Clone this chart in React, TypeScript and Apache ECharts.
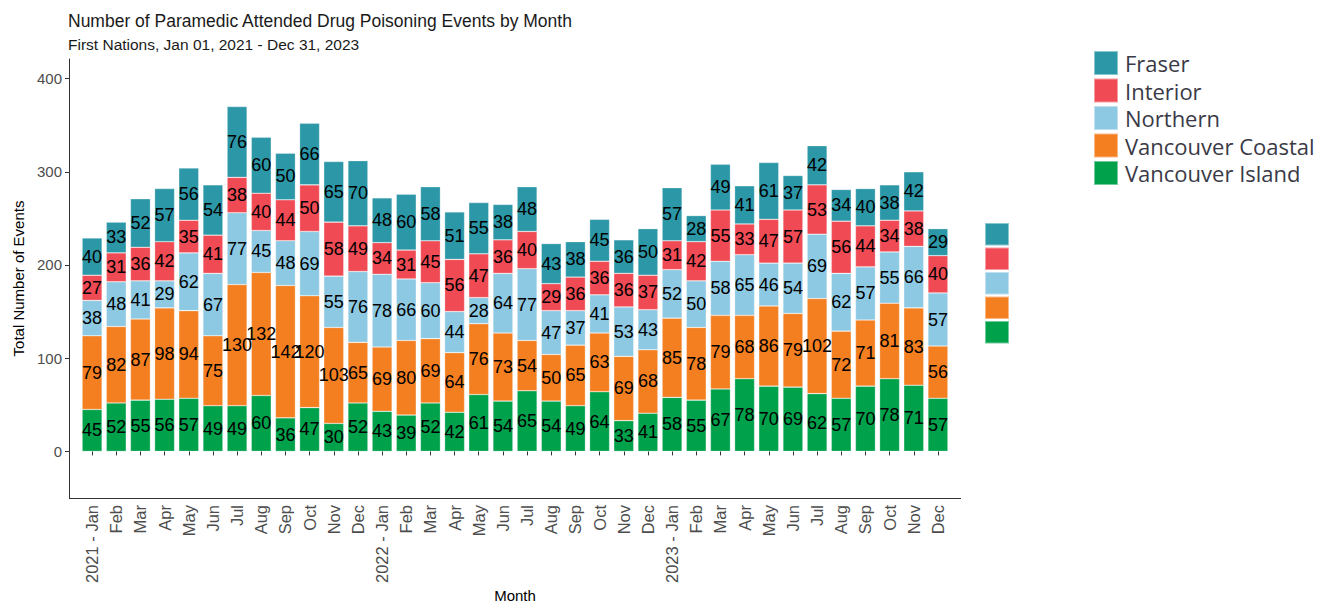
import React, { useEffect, useRef } from "react";
import * as echarts from "echarts";

const monthLabels = [
  "2021 - Jan", "Feb", "Mar", "Apr", "May", "Jun", "Jul", "Aug", "Sep", "Oct", "Nov", "Dec",
  "2022 - Jan", "Feb", "Mar", "Apr", "May", "Jun", "Jul", "Aug", "Sep", "Oct", "Nov", "Dec",
  "2023 - Jan", "Feb", "Mar", "Apr", "May", "Jun", "Jul", "Aug", "Sep", "Oct", "Nov", "Dec",
];

const vancouverIsland = [
  45, 52, 55, 56, 57, 49, 49, 60, 36, 47, 30, 52,
  43, 39, 52, 42, 61, 54, 65, 54, 49, 64, 33, 41,
  58, 55, 67, 78, 70, 69, 62, 57, 70, 78, 71, 57,
];
const vancouverCoastal = [
  79, 82, 87, 98, 94, 75, 130, 132, 142, 120, 103, 65,
  69, 80, 69, 64, 76, 73, 54, 50, 65, 63, 69, 68,
  85, 78, 79, 68, 86, 79, 102, 72, 71, 81, 83, 56,
];
const northern = [
  38, 48, 41, 29, 62, 67, 77, 45, 48, 69, 55, 76,
  78, 66, 60, 44, 28, 64, 77, 47, 37, 41, 53, 43,
  52, 50, 58, 65, 46, 54, 69, 62, 57, 55, 66, 57,
];
const interior = [
  27, 31, 36, 42, 35, 41, 38, 40, 44, 50, 58, 49,
  34, 31, 45, 56, 47, 36, 40, 29, 36, 36, 36, 37,
  31, 42, 55, 33, 47, 57, 53, 56, 44, 34, 38, 40,
];
const fraser = [
  40, 33, 52, 57, 56, 54, 76, 60, 50, 66, 65, 70,
  48, 60, 58, 51, 55, 38, 48, 43, 38, 45, 36, 50,
  57, 28, 49, 41, 61, 37, 42, 34, 40, 38, 42, 29,
];

const yTicks = [0, 100, 200, 300, 400];
const legendOrder = ["Fraser", "Interior", "Northern", "Vancouver Coastal", "Vancouver Island"];

const seriesDefs = [
  { name: "Vancouver Island", data: vancouverIsland, color: "#00A14B" },
  { name: "Vancouver Coastal", data: vancouverCoastal, color: "#F47F20" },
  { name: "Northern", data: northern, color: "#8DC9E2" },
  { name: "Interior", data: interior, color: "#F04B55" },
  { name: "Fraser", data: fraser, color: "#2C97A7" },
];

const FONT = "'Liberation Sans', Arial, sans-serif";

export default function App() {
  const ref = useRef<HTMLDivElement>(null);
  useEffect(() => {
    if (!ref.current) return;
    const chart = echarts.init(ref.current, null, { renderer: "svg" });
    chart.setOption({
      animation: false,
      backgroundColor: "#ffffff",
      textStyle: { fontFamily: FONT },
      title: [
        {
          text: "Number of Paramedic Attended Drug Poisoning Events by Month",
          left: 68,
          top: 12,
          padding: 0,
          textStyle: { fontSize: 17.5, fontWeight: "normal", color: "#1a1a1a", fontFamily: FONT },
        },
        {
          text: "First Nations, Jan 01, 2021 - Dec 31, 2023",
          left: 68,
          top: 36,
          padding: 0,
          textStyle: { fontSize: 15.5, fontWeight: "normal", color: "#1a1a1a", fontFamily: FONT },
        },
      ],
      legend: [
        {
          data: legendOrder,
          orient: "vertical",
          left: 1093,
          top: 50,
          padding: 0,
          itemWidth: 24,
          itemHeight: 24,
          itemGap: 1.5,
          icon: "rect",
          selectedMode: false,
          textStyle: {
            fontSize: 22,
            lineHeight: 22,
            color: "#3a3a46",
            fontFamily: "'Open Sans', sans-serif",
            padding: [0, 0, 0, 2],
          },
        },
        {
          data: legendOrder,
          orient: "vertical",
          left: 984,
          top: 222,
          padding: 0,
          itemWidth: 24,
          itemHeight: 22.5,
          itemGap: 0,
          icon: "rect",
          selectedMode: false,
          formatter: () => " ",
          textStyle: { fontSize: 6, lineHeight: 8, color: "#fff" },
        },
      ],
      grid: { left: 80, right: 372, top: 59, bottom: 105, containLabel: false, outerBoundsMode: "none" },
      xAxis: {
        type: "category",
        data: monthLabels,
        boundaryGap: true,
        name: "Month",
        nameLocation: "middle",
        nameGap: 90,
        nameMoveOverlap: false,
        nameTextStyle: { fontSize: 15, color: "#000", fontFamily: FONT },
        axisLine: { show: false },
        axisTick: { show: true, alignWithLabel: true, length: 4, lineStyle: { color: "#333" } },
        axisLabel: { interval: 0, rotate: 90, fontSize: 16.5, color: "#4d4d4d", margin: 7, fontFamily: FONT },
        splitLine: { show: false },
      },
      yAxis: {
        type: "value",
        min: -50,
        max: 421,
        offset: 11,
        name: "Total Number of Events",
        nameLocation: "middle",
        nameGap: 43,
        nameMoveOverlap: false,
        nameTextStyle: { fontSize: 15, color: "#000", fontFamily: FONT },
        axisLine: { show: true, lineStyle: { color: "#333", width: 1 } },
        axisTick: { show: true, length: 4, customValues: yTicks, lineStyle: { color: "#333" } },
        axisLabel: { customValues: yTicks, fontSize: 15, color: "#4d4d4d", margin: 7, fontFamily: FONT },
        splitLine: { show: false },
      },
      graphic: [
        {
          type: "line",
          shape: { x1: 69, y1: 498.5, x2: 961, y2: 498.5 },
          style: { stroke: "#333", lineWidth: 1 },
          silent: true,
        },
      ],
      series: seriesDefs.map((s) => ({
        name: s.name,
        type: "bar",
        stack: "total",
        data: s.data,
        barWidth: 20,
        itemStyle: { color: s.color, borderColor: "rgba(255,255,255,0.45)", borderWidth: 0.6 },
        label: {
          show: true,
          position: "inside",
          fontSize: 18,
          color: "#000",
          fontFamily: FONT,
        },
        emphasis: { disabled: true },
      })),
    });
    return () => chart.dispose();
  }, []);
  return (
    <div
      ref={ref}
      style={{ position: "fixed", left: 0, top: 0, width: 1322, height: 603 }}
    />
  );
}
